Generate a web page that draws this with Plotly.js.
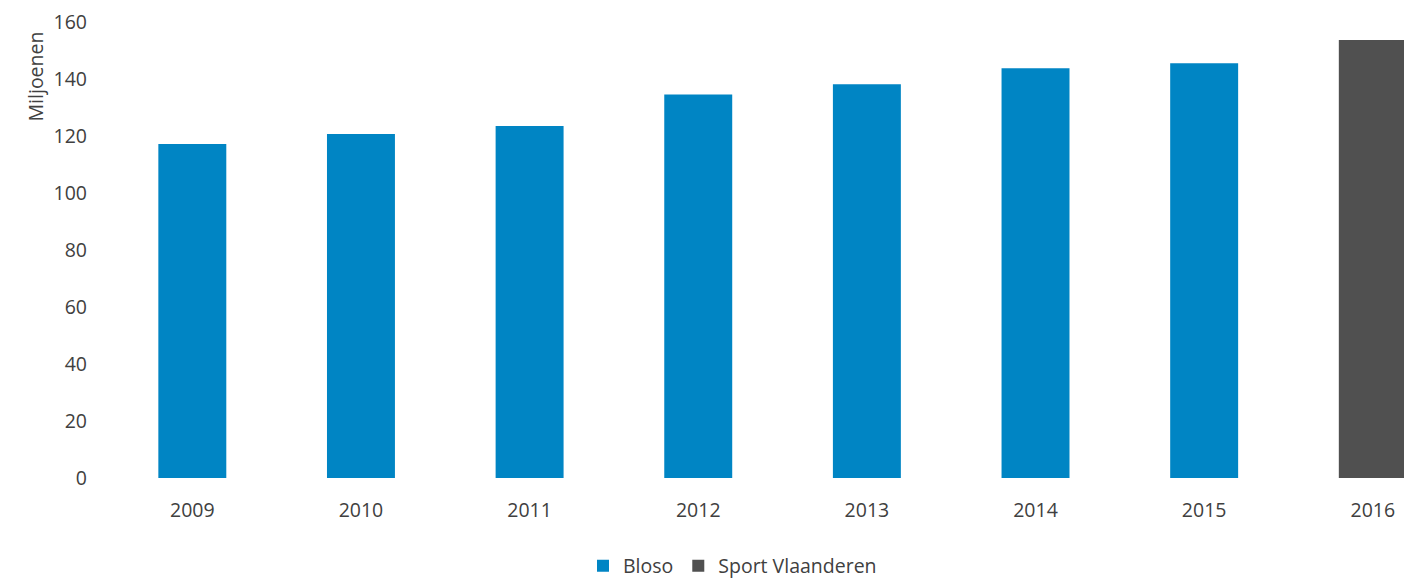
<!DOCTYPE html>
<html>
<head>
<meta charset="utf-8">
<script src="https://cdn.plot.ly/plotly-3.0.1.min.js"></script>
<style>html,body{margin:0;padding:0;background:#fff;}#chart{width:1404px;height:581px;}</style>
</head>
<body>
<div id="chart"></div>
<script>
const blosoYears = ['2009', '2010', '2011', '2012', '2013', '2014', '2015'];
const blosoValues = [117.2, 120.7, 123.5, 134.6, 138.2, 143.8, 145.5];
const sportYears = ['2016'];
const sportValues = [153.7];
const allYears = ['2009', '2010', '2011', '2012', '2013', '2014', '2015', '2016'];
const yTicks = [0, 20, 40, 60, 80, 100, 120, 140, 160];

const W = 1404, H = 581;
const plotLeft = 107.6, plotRight = 1404;
const fontFam = 'Open Sans, sans-serif';
const txtColor = '#404040';
const fs = 19.5;

const traces = [
  {type: 'bar', name: 'Bloso', x: blosoYears, y: blosoValues,
   marker: {color: '#0085C4'}, hoverinfo: 'x+y'},
  {type: 'bar', name: 'Sport Vlaanderen', x: sportYears, y: sportValues,
   marker: {color: '#505050'}, hoverinfo: 'x+y'}
];

const layout = {
  width: W, height: H,
  margin: {l: plotLeft, r: 0, t: 22, b: 103, pad: 0},
  paper_bgcolor: '#ffffff', plot_bgcolor: '#ffffff',
  font: {family: fontFam, size: fs, color: txtColor},
  barmode: 'relative',
  bargap: 0.597,
  showlegend: true,
  legend: {orientation: 'h', xref: 'container', x: 583 / W, xanchor: 'left',
           yref: 'container', y: (H - 566) / H, yanchor: 'middle',
           font: {family: fontFam, size: fs, color: txtColor}, itemwidth: 30, traceorder: 'normal'},
  xaxis: {type: 'category', categoryorder: 'array', categoryarray: allYears,
          range: [-0.5, 7.185], showgrid: false, zeroline: false, showline: false,
          ticks: '', ticklabelstandoff: 18, tickfont: {size: fs, color: txtColor}, fixedrange: true},
  yaxis: {range: [0, 160], tickvals: yTicks, ticktext: yTicks.map(String),
          showgrid: false, zeroline: false, showline: false, ticks: '',
          ticklabelstandoff: 20, tickfont: {size: fs, color: txtColor}, fixedrange: true},
  annotations: [
    {text: 'Miljoenen', xref: 'paper', yref: 'paper', x: (35 - plotLeft) / (plotRight - plotLeft),
     y: (581 - 103 - 76) / (581 - 22 - 103), xanchor: 'center', yanchor: 'middle', textangle: -90,
     showarrow: false, font: {family: fontFam, size: fs, color: txtColor}}
  ]
};

Plotly.newPlot('chart', traces, layout, {displayModeBar: false, staticPlot: true});
</script>
</body>
</html>
